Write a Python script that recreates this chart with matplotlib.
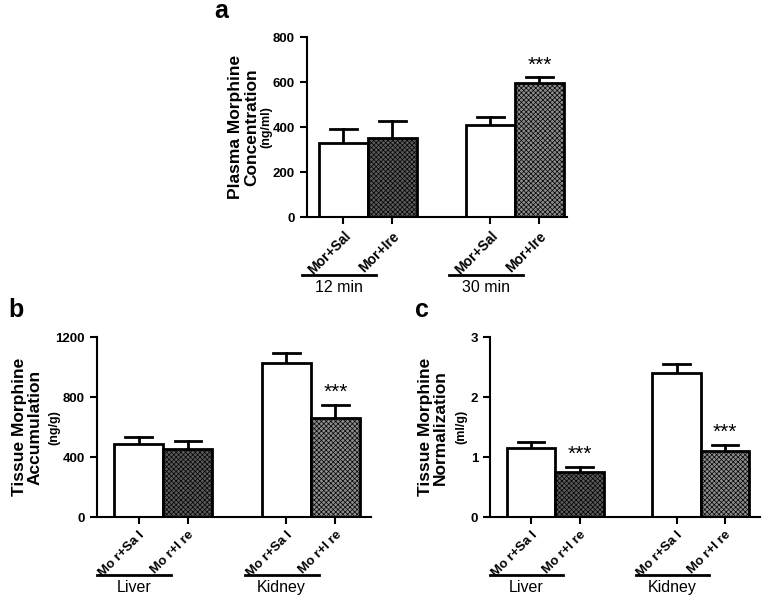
import matplotlib
matplotlib.use("Agg")
import matplotlib.pyplot as plt
import matplotlib.transforms as mtransforms
import numpy as np

plt.rcParams['font.family'] = ['Liberation Sans', 'DejaVu Sans']
plt.rcParams['hatch.linewidth'] = 0.5

# panel a - plasma
a_labels = ['Mor+Sal', 'Mor+Ire', 'Mor+Sal', 'Mor+Ire']
a_groups = ['12 min', '30 min']
a_means = [330, 352, 412, 595]
a_sem = [62, 77, 32, 27]
a_stars = ['', '', '', '***']

# panel b - tissue accumulation
b_labels = ['Mo r+Sa l', 'Mo r+I re', 'Mo r+Sa l', 'Mo r+I re']
b_groups = ['Liver', 'Kidney']
b_means = [490, 456, 1025, 660]
b_sem = [47, 50, 70, 85]
b_stars = ['', '', '', '***']

# panel c - tissue normalization
c_labels = ['Mo r+Sa l', 'Mo r+I re', 'Mo r+Sa l', 'Mo r+I re']
c_groups = ['Liver', 'Kidney']
c_means = [1.16, 0.76, 2.41, 1.10]
c_sem = [0.09, 0.08, 0.15, 0.10]
c_stars = ['', '***', '', '***']

xpos = np.array([0, 1, 3, 4])
faces = ['white', '#5a5a5a', 'white', '#8c8c8c']
hatches = ['', 'xxxxxxx', '', 'xxxxxxx']


def draw_panel(ax, means, sem, labels, groups, stars, ymax, yticks, ylabel, unit, xlim,
               star_off, xfs, lab_px, unit_px):
    for x, m, s, fc, h in zip(xpos, means, sem, faces, hatches):
        ax.bar(x, m, width=1.0, color=fc, edgecolor='black', linewidth=2, hatch=h, zorder=2)
        ax.plot([x, x], [m, m + s], color='black', lw=2, zorder=1)
        ax.plot([x - 0.27, x + 0.27], [m + s, m + s], color='black', lw=2, zorder=1)
    for x, m, s, st in zip(xpos, means, sem, stars):
        if st:
            ax.text(x, m + s + star_off, st, ha='center', va='bottom', fontsize=15)
    ax.set_ylim(0, ymax)
    ax.set_xlim(*xlim)
    ax.set_yticks(yticks)
    ax.set_yticklabels([str(t) for t in yticks], fontsize=9.5, fontweight='bold')
    ax.set_xticks(xpos)
    ax.set_xticklabels(labels, rotation=45, ha='right', rotation_mode='anchor',
                       fontsize=xfs, fontweight='bold')
    ax.spines['top'].set_visible(False)
    ax.spines['right'].set_visible(False)
    ax.spines['left'].set_linewidth(1.5)
    ax.spines['bottom'].set_linewidth(1.5)
    ax.tick_params(width=1.5, length=5)

    # y label and unit placed by pixel offset from the left spine
    tl = ax.transAxes + mtransforms.ScaledTranslation(-lab_px / 100, 0, ax.figure.dpi_scale_trans)
    ax.text(0, 0.5, ylabel, transform=tl, rotation=90, ha='center', va='center',
            fontsize=12.5, fontweight='bold', linespacing=1.05)
    tu = ax.transAxes + mtransforms.ScaledTranslation(-unit_px / 100, 0, ax.figure.dpi_scale_trans)
    ax.text(0, 0.5, unit, transform=tu, rotation=90, ha='center', va='center',
            fontsize=9, fontweight='bold')

    tr = ax.get_xaxis_transform()
    for gi, g in enumerate(groups):
        x0 = xpos[2 * gi]
        ax.plot([x0 - 0.84, x0 + 0.66], [-0.322, -0.322], transform=tr, color='black',
                lw=2, clip_on=False)
        ax.text(x0 - 0.1, -0.39, g, transform=tr, ha='center', va='center', fontsize=11.5)


fig = plt.figure(figsize=(7.63, 6.0), dpi=100)

ax_a = fig.add_axes([0.402, 0.638, 0.341, 0.300])
draw_panel(ax_a, a_means, a_sem, a_labels, a_groups, a_stars, 800, [0, 200, 400, 600, 800],
           'Plasma Morphine\nConcentration', '(ng/ml)', (-0.75, 4.56), 10, 10, 63, 40)

ax_b = fig.add_axes([0.127, 0.138, 0.359, 0.300])
draw_panel(ax_b, b_means, b_sem, b_labels, b_groups, b_stars, 1200, [0, 400, 800, 1200],
           'Tissue Morphine\nAccumulation', '(ng/g)', (-0.85, 4.72), 22, 9.5, 70, 43)

ax_c = fig.add_axes([0.642, 0.138, 0.354, 0.300])
draw_panel(ax_c, c_means, c_sem, c_labels, c_groups, c_stars, 3, [0, 1, 2, 3],
           'Tissue Morphine\nNormalization', '(ml/g)', (-0.85, 4.72), 0.05, 9.5, 57, 28)

fig.text(221 / 763, 1 - 18 / 600, 'a', fontsize=18, fontweight='bold', ha='center', va='baseline')
fig.text(16 / 763, 1 - 317 / 600, 'b', fontsize=18, fontweight='bold', ha='center', va='baseline')
fig.text(422 / 763, 1 - 317 / 600, 'c', fontsize=18, fontweight='bold', ha='center', va='baseline')

fig.savefig('out.png', dpi=100)
